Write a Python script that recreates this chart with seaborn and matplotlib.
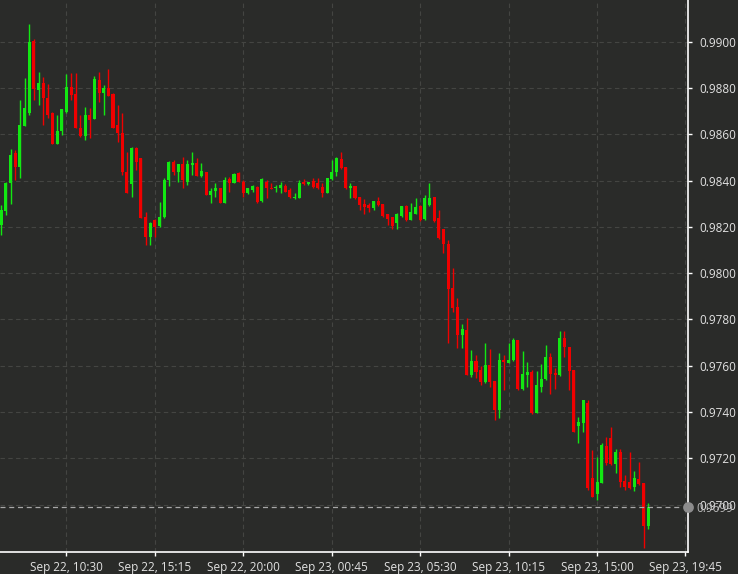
import numpy as np
import pandas as pd
import seaborn as sns
import matplotlib
matplotlib.use("Agg")
import matplotlib.pyplot as plt
import matplotlib.dates as mdates
import matplotlib.transforms as mtrans

# 15 minute candles, EUR/USD, Sep 22 07:00 -> Sep 23 17:45
start_time = "2022-09-22 07:00"

open_ = [0.98208, 0.98270, 0.98388, 0.98518, 0.98460, 0.98636, 0.98690, 0.99003, 0.98791, 0.98820,
         0.98758, 0.98690, 0.98558, 0.98614, 0.98698, 0.98803, 0.98774, 0.98628, 0.98592, 0.98683,
         0.98664, 0.98834, 0.98777, 0.98798, 0.98772, 0.98640, 0.98604, 0.98438, 0.98385, 0.98539,
         0.98496, 0.98241, 0.98155, 0.98230, 0.98204, 0.98241, 0.98402, 0.98482, 0.98438, 0.98472,
         0.98395, 0.98467, 0.98477, 0.98421, 0.98438, 0.98338, 0.98353, 0.98369, 0.98304, 0.98405,
         0.98391, 0.98431, 0.98395, 0.98345, 0.98359, 0.98373, 0.98311, 0.98395, 0.98370, 0.98366,
         0.98366, 0.98376, 0.98359, 0.98323, 0.98326, 0.98395, 0.98386, 0.98398, 0.98391, 0.98373,
         0.98348, 0.98405, 0.98438, 0.98493, 0.98460, 0.98366, 0.98378, 0.98327, 0.98301, 0.98294,
         0.98280, 0.98311, 0.98301, 0.98255, 0.98244, 0.98218, 0.98247, 0.98290, 0.98229, 0.98255,
         0.98290, 0.98234, 0.98294, 0.98330, 0.98240, 0.98190, 0.98126, 0.97938, 0.97856, 0.97733,
         0.97755, 0.97560, 0.97621, 0.97582, 0.97532, 0.97604, 0.97536, 0.97409, 0.97625, 0.97614,
         0.97625, 0.97712, 0.97498, 0.97560, 0.97575, 0.97398, 0.97510, 0.97542, 0.97640, 0.97568,
         0.97560, 0.97719, 0.97683, 0.97582, 0.97340, 0.97351, 0.97438, 0.97115, 0.97046, 0.97095,
         0.97253, 0.97287, 0.97176, 0.97229, 0.97103, 0.97099, 0.97078, 0.97111, 0.97092, 0.96908]

high = [0.98294, 0.98395, 0.98535, 0.98532, 0.98748, 0.98842, 0.99076, 0.99010, 0.98870, 0.98849,
        0.98817, 0.98698, 0.98683, 0.98711, 0.98860, 0.98863, 0.98866, 0.98683, 0.98716, 0.98712,
        0.98852, 0.98870, 0.98813, 0.98880, 0.98777, 0.98726, 0.98690, 0.98525, 0.98546, 0.98546,
        0.98496, 0.98266, 0.98222, 0.98232, 0.98309, 0.98410, 0.98486, 0.98489, 0.98472, 0.98503,
        0.98489, 0.98523, 0.98496, 0.98474, 0.98438, 0.98366, 0.98391, 0.98369, 0.98417, 0.98417,
        0.98431, 0.98438, 0.98402, 0.98366, 0.98383, 0.98376, 0.98409, 0.98402, 0.98388, 0.98383,
        0.98396, 0.98385, 0.98366, 0.98345, 0.98402, 0.98405, 0.98395, 0.98409, 0.98412, 0.98388,
        0.98412, 0.98489, 0.98503, 0.98522, 0.98460, 0.98391, 0.98378, 0.98327, 0.98319, 0.98304,
        0.98311, 0.98330, 0.98301, 0.98255, 0.98244, 0.98258, 0.98290, 0.98294, 0.98304, 0.98326,
        0.98294, 0.98337, 0.98388, 0.98330, 0.98273, 0.98190, 0.98144, 0.98021, 0.97892, 0.97781,
        0.97805, 0.97668, 0.97647, 0.97599, 0.97697, 0.97671, 0.97536, 0.97657, 0.97647, 0.97697,
        0.97719, 0.97712, 0.97666, 0.97618, 0.97582, 0.97578, 0.97608, 0.97690, 0.97657, 0.97589,
        0.97752, 0.97752, 0.97683, 0.97582, 0.97380, 0.97452, 0.97452, 0.97236, 0.97207, 0.97265,
        0.97294, 0.97337, 0.97239, 0.97239, 0.97128, 0.97229, 0.97147, 0.97186, 0.97092, 0.97009]

low = [0.98165, 0.98251, 0.98299, 0.98402, 0.98410, 0.98636, 0.98683, 0.98748, 0.98726, 0.98640,
       0.98669, 0.98558, 0.98558, 0.98597, 0.98690, 0.98748, 0.98626, 0.98587, 0.98575, 0.98582,
       0.98664, 0.98741, 0.98683, 0.98765, 0.98626, 0.98568, 0.98424, 0.98345, 0.98330, 0.98446,
       0.98237, 0.98122, 0.98122, 0.98155, 0.98201, 0.98237, 0.98376, 0.98424, 0.98395, 0.98366,
       0.98381, 0.98424, 0.98421, 0.98417, 0.98338, 0.98302, 0.98330, 0.98302, 0.98302, 0.98352,
       0.98388, 0.98395, 0.98330, 0.98342, 0.98352, 0.98304, 0.98309, 0.98323, 0.98362, 0.98349,
       0.98345, 0.98349, 0.98323, 0.98322, 0.98323, 0.98383, 0.98381, 0.98370, 0.98363, 0.98327,
       0.98348, 0.98402, 0.98419, 0.98448, 0.98362, 0.98323, 0.98319, 0.98273, 0.98255, 0.98265,
       0.98273, 0.98291, 0.98244, 0.98208, 0.98189, 0.98189, 0.98244, 0.98227, 0.98229, 0.98255,
       0.98227, 0.98229, 0.98290, 0.98222, 0.98146, 0.98086, 0.97697, 0.97834, 0.97676, 0.97676,
       0.97560, 0.97553, 0.97546, 0.97517, 0.97524, 0.97507, 0.97366, 0.97373, 0.97496, 0.97611,
       0.97622, 0.97496, 0.97496, 0.97510, 0.97392, 0.97398, 0.97488, 0.97539, 0.97478, 0.97498,
       0.97556, 0.97637, 0.97496, 0.97315, 0.97265, 0.97315, 0.97063, 0.97033, 0.97020, 0.97092,
       0.97171, 0.97171, 0.97138, 0.97078, 0.97063, 0.97068, 0.97060, 0.97085, 0.96812, 0.96894]

close_ = [0.98273, 0.98391, 0.98510, 0.98460, 0.98640, 0.98712, 0.99000, 0.98794, 0.98820, 0.98755,
          0.98683, 0.98558, 0.98616, 0.98708, 0.98803, 0.98770, 0.98626, 0.98592, 0.98683, 0.98662,
          0.98839, 0.98777, 0.98798, 0.98765, 0.98626, 0.98604, 0.98438, 0.98345, 0.98539, 0.98482,
          0.98237, 0.98155, 0.98218, 0.98198, 0.98244, 0.98402, 0.98482, 0.98438, 0.98472, 0.98402,
          0.98472, 0.98477, 0.98421, 0.98443, 0.98338, 0.98356, 0.98369, 0.98304, 0.98402, 0.98388,
          0.98428, 0.98395, 0.98345, 0.98366, 0.98376, 0.98309, 0.98405, 0.98366, 0.98363, 0.98373,
          0.98381, 0.98352, 0.98327, 0.98330, 0.98391, 0.98385, 0.98394, 0.98373, 0.98366, 0.98345,
          0.98409, 0.98438, 0.98496, 0.98453, 0.98366, 0.98378, 0.98323, 0.98294, 0.98287, 0.98280,
          0.98311, 0.98294, 0.98247, 0.98234, 0.98204, 0.98255, 0.98290, 0.98229, 0.98265, 0.98287,
          0.98229, 0.98323, 0.98323, 0.98225, 0.98150, 0.98126, 0.97931, 0.97848, 0.97733, 0.97758,
          0.97560, 0.97622, 0.97575, 0.97532, 0.97604, 0.97532, 0.97409, 0.97625, 0.97618, 0.97625,
          0.97712, 0.97498, 0.97565, 0.97575, 0.97395, 0.97517, 0.97542, 0.97640, 0.97565, 0.97560,
          0.97719, 0.97680, 0.97578, 0.97315, 0.97358, 0.97452, 0.97071, 0.97033, 0.97099, 0.97258,
          0.97179, 0.97176, 0.97229, 0.97099, 0.97078, 0.97071, 0.97114, 0.97089, 0.96908, 0.96991]

tick_times = ["2022-09-22 10:30", "2022-09-22 15:15", "2022-09-22 20:00", "2022-09-23 00:45",
              "2022-09-23 05:30", "2022-09-23 10:15", "2022-09-23 15:00", "2022-09-23 19:45"]
tick_labels = ["Sep 22, 10:30", "Sep 22, 15:15", "Sep 22, 20:00", "Sep 23, 00:45",
               "Sep 23, 05:30", "Sep 23, 10:15", "Sep 23, 15:00", "Sep 23, 19:45"]
price_ticks = [0.9700, 0.9720, 0.9740, 0.9760, 0.9780, 0.9800, 0.9820, 0.9840, 0.9860, 0.9880, 0.9900]
last_price = 0.9699

BG = "#2a2b29"
UP = "#12e812"
DOWN = "#f00000"
TXT = "#e2e2e2"

sns.set_theme(style="dark", rc={"axes.facecolor": BG, "figure.facecolor": BG})
plt.rcParams['font.family'] = ['Open Sans', 'DejaVu Sans']

df = pd.DataFrame({"open": open_, "high": high, "low": low, "close": close_},
                  index=pd.date_range(start_time, periods=len(close_), freq="15min"))
df["x"] = mdates.date2num(df.index.to_pydatetime())
df["up"] = df["close"] >= df["open"]
step = 15 / 1440.0

fig = plt.figure(figsize=(7.38, 5.74), dpi=100)
ax = fig.add_axes([0, 22.3 / 574, 688 / 738, 1 - 22.3 / 574])
ax.set_facecolor(BG)

colors = np.where(df["up"], UP, DOWN)
lo = np.minimum(df["low"], np.minimum(df["open"], df["close"]))
hi = np.maximum(df["high"], np.maximum(df["open"], df["close"]))
ax.vlines(df["x"], lo, hi, colors=colors, linewidth=1.0, zorder=3)
body_bot = np.minimum(df["open"], df["close"])
body_h = np.maximum(np.abs(df["close"] - df["open"]), 0.00003)
ax.bar(df["x"], body_h, bottom=body_bot, width=step * 0.65, color=colors,
       linewidth=0, zorder=4)

# last price line + marker
ax.axhline(last_price, xmax=0.99, color="#a8a8a8", linestyle=(0, (4, 3)), linewidth=0.9, zorder=5)
x0 = mdates.date2num(pd.Timestamp(start_time)) - 0.28 * step
x1 = mdates.date2num(pd.Timestamp(start_time)) + 147.55 * step
sns.scatterplot(x=[x1], y=[last_price], ax=ax, s=60, color="#8c8c8c", linewidth=0,
                zorder=6, clip_on=False, legend=False)

ax.set_xlim(x0, x1)
ax.set_ylim(0.96797, 0.99180)

ax.set_xticks(mdates.date2num(pd.to_datetime(tick_times).to_pydatetime()))
ax.set_xticklabels(tick_labels)
ax.set_yticks(price_ticks)
ax.set_yticklabels([f"{p:.4f}" for p in price_ticks])
ax.yaxis.tick_right()
ax.tick_params(axis="both", colors="white", labelcolor=TXT, labelsize=8.5,
               length=3, width=1, direction="out", bottom=True, right=True, left=False)
ax.tick_params(axis="x", pad=4)
ax.tick_params(axis="y", pad=5)

ax.grid(True, color="#444542", linestyle=(0, (4, 3)), linewidth=0.8)
ax.set_axisbelow(True)
for side in ["top", "left"]:
    ax.spines[side].set_visible(False)
for side in ["bottom", "right"]:
    ax.spines[side].set_visible(True)
    ax.spines[side].set_color("white")
    ax.spines[side].set_linewidth(1.2)

# current price label sits on top of the 0.9700 tick label, as in the source chart
trans = mtrans.blended_transform_factory(ax.transAxes, ax.transData)
ax.annotate(f"{last_price:.4f}", xy=(1.0, last_price), xycoords=trans,
            xytext=(6, -1), textcoords="offset points", color="#b8b8b8",
            fontsize=8.5, va="center", ha="left", annotation_clip=False)

fig.savefig("out.png", dpi=100, facecolor=BG)
